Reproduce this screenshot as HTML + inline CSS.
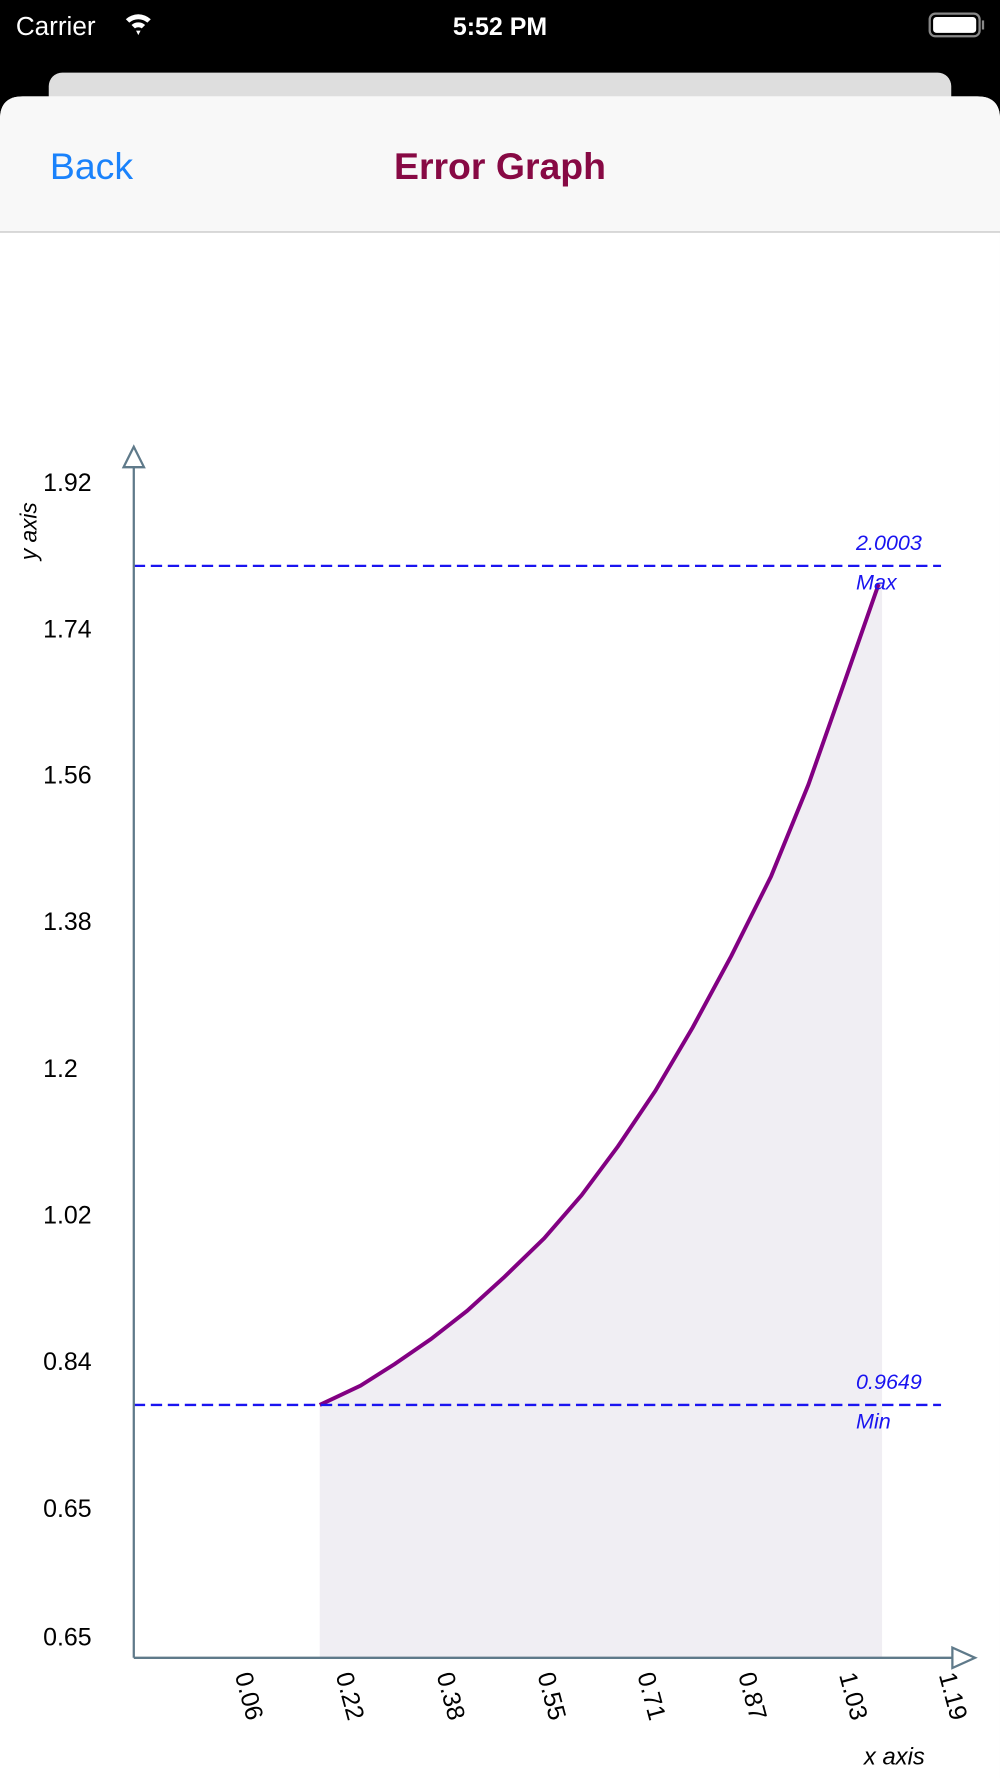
<!DOCTYPE html>
<html><head><meta charset="utf-8"><style>
html,body{margin:0;padding:0;background:#000;}
svg{display:block}
</style></head><body>
<svg width="1000" height="1778" viewBox="0 0 882 1568" preserveAspectRatio="none" xmlns="http://www.w3.org/2000/svg" font-family="Liberation Sans, sans-serif">
<rect x="0" y="0" width="882" height="1568" fill="#000"/>
<text x="14" y="31" fill="#fff" font-size="23">Carrier</text>
<g transform="translate(122,22)" fill="#fff">
<path d="M-11,-5 A16,16 0 0 1 11,-5 L8,-2 A12,12 0 0 0 -8,-2Z"/>
<path d="M-6,0 A9,9 0 0 1 6,0 L3,3 A5,5 0 0 0 -3,3Z"/>
<path d="M-2,5 L2,5 L0,9Z"/>
</g>
<text x="441" y="31" fill="#fff" font-size="22" font-weight="bold" text-anchor="middle">5:52 PM</text>
<rect x="820" y="12" width="44" height="20" rx="5" fill="none" stroke="#888" stroke-width="2"/>
<rect x="823" y="15" width="38" height="14" rx="3" fill="#fff"/>
<rect x="866" y="18" width="2" height="8" fill="#888"/>
<rect x="43" y="64" width="796" height="60" rx="12" fill="#dedede"/>
<path d="M0,105 Q0,85 20,85 L862,85 Q882,85 882,105 L882,1568 L0,1568Z" fill="#fff"/>
<path d="M0,105 Q0,85 20,85 L862,85 Q882,85 882,105 L882,205 L0,205Z" fill="#f8f8f8"/>
<rect x="0" y="204" width="882" height="1.2" fill="#c8c8c8"/>
<text x="44" y="158" fill="#1a82fb" font-size="33">Back</text>
<text x="441" y="158" fill="#870944" font-size="33" font-weight="bold" text-anchor="middle">Error Graph</text>

<path d="M282,1239 L318,1222 L348,1203 L380,1181 L412,1156 L445,1126 L480,1092 L513,1054 L545,1011 L578,962 L611,906 L645,843 L680,773 L713,692 L745,601 L775,515 L778,515 L778,1462 L282,1462Z" fill="#f0eef3"/>
<polyline points="282,1239 318,1222 348,1203 380,1181 412,1156 445,1126 480,1092 513,1054 545,1011 578,962 611,906 645,843 680,773 713,692 745,601 775,515" fill="none" stroke="#820082" stroke-width="3.5"/>

<line x1="118" y1="499" x2="830" y2="499" stroke="#1a14f0" stroke-width="2" stroke-dasharray="10,5"/>
<line x1="118" y1="1239" x2="830" y2="1239" stroke="#1a14f0" stroke-width="2" stroke-dasharray="10,5"/>
<g fill="#1a14f0" font-size="19" font-style="italic">
<text x="755" y="485">2.0003</text><text x="755" y="520">Max</text>
<text x="755" y="1225">0.9649</text><text x="755" y="1260">Min</text>
</g>

<g stroke="#5f7a8a" stroke-width="2" fill="#fff">
<line x1="118" y1="412" x2="118" y2="1462"/>
<line x1="118" y1="1462" x2="840" y2="1462"/>
<path d="M118,394 L109,412 L127,412Z"/>
<path d="M860,1462 L840,1453 L840,1471Z"/>
</g>
<g font-size="22" fill="#000">
<text x="38" y="433">1.92</text><text x="38" y="562">1.74</text><text x="38" y="691">1.56</text>
<text x="38" y="820">1.38</text><text x="38" y="950">1.2</text><text x="38" y="1079">1.02</text>
<text x="38" y="1208">0.84</text><text x="38" y="1338">0.65</text><text x="38" y="1451">0.65</text>
</g>
<text transform="translate(32,494) rotate(-90)" font-size="20" font-style="italic">y axis</text>
<g font-size="22" fill="#000">
<text transform="translate(207,1477) rotate(75)">0.06</text>
<text transform="translate(296,1477) rotate(75)">0.22</text>
<text transform="translate(385,1477) rotate(75)">0.38</text>
<text transform="translate(474,1477) rotate(75)">0.55</text>
<text transform="translate(562,1477) rotate(75)">0.71</text>
<text transform="translate(651,1477) rotate(75)">0.87</text>
<text transform="translate(740,1477) rotate(75)">1.03</text>
<text transform="translate(828,1477) rotate(75)">1.19</text>
</g>
<text x="762" y="1556" font-size="21" font-style="italic">x axis</text>
</svg>
</body></html>
